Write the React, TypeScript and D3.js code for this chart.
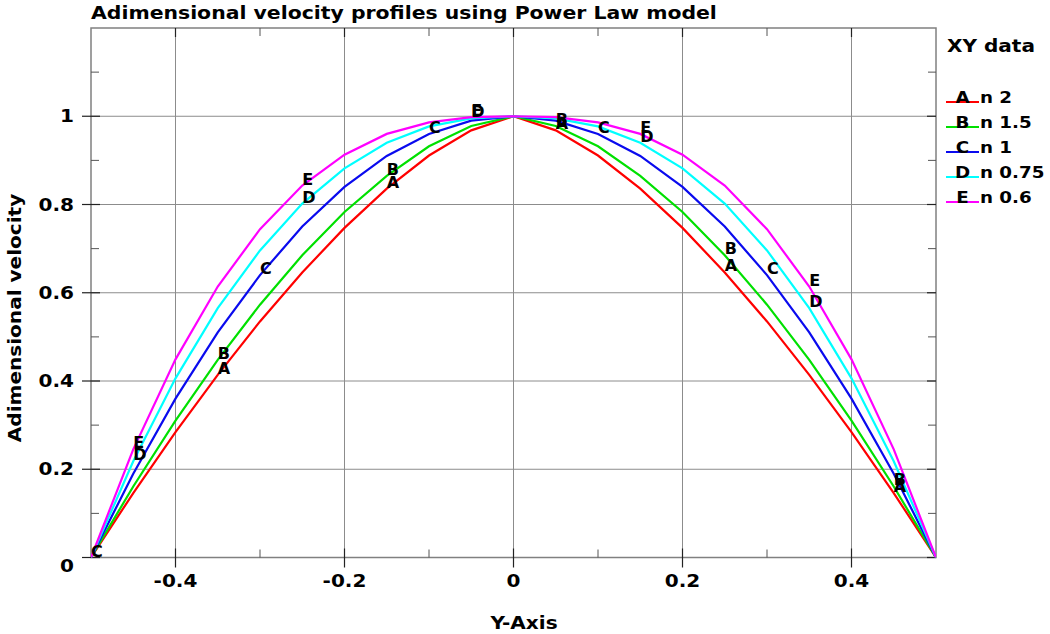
import React from "react";
import * as d3 from "d3";

const positions = [-0.5, -0.45, -0.4, -0.35, -0.3, -0.25, -0.2, -0.15, -0.1, -0.05, 0, 0.05, 0.1, 0.15, 0.2, 0.25, 0.3, 0.35, 0.4, 0.45, 0.5];

const seriesA = [0, 0.146, 0.284, 0.414, 0.535, 0.646, 0.747, 0.836, 0.911, 0.968, 1, 0.968, 0.911, 0.836, 0.747, 0.646, 0.535, 0.414, 0.284, 0.146, 0];
const seriesB = [0, 0.161, 0.310, 0.448, 0.573, 0.685, 0.783, 0.865, 0.932, 0.978, 1, 0.978, 0.932, 0.865, 0.783, 0.685, 0.573, 0.448, 0.310, 0.161, 0];
const seriesC = [0, 0.19, 0.36, 0.51, 0.64, 0.75, 0.84, 0.91, 0.96, 0.99, 1, 0.99, 0.96, 0.91, 0.84, 0.75, 0.64, 0.51, 0.36, 0.19, 0];
const seriesD = [0, 0.218, 0.406, 0.565, 0.696, 0.802, 0.882, 0.940, 0.977, 0.995, 1, 0.995, 0.977, 0.940, 0.882, 0.802, 0.696, 0.565, 0.406, 0.218, 0];
const seriesE = [0, 0.245, 0.449, 0.614, 0.744, 0.843, 0.913, 0.960, 0.986, 0.998, 1, 0.998, 0.986, 0.960, 0.913, 0.843, 0.744, 0.614, 0.449, 0.245, 0];

const seriesLetters = ["A", "B", "C", "D", "E"];
const seriesNames = ["n 2", "n 1.5", "n 1", "n 0.75", "n 0.6"];
const seriesColors = ["#ff0000", "#00e000", "#0a0aee", "#00ffff", "#ff00ff"];
const markerIndices = [
  [3, 7, 11, 15, 19],
  [3, 7, 11, 15, 19],
  [0, 4, 8, 12, 16],
  [1, 5, 9, 13, 17],
  [1, 5, 9, 13, 17],
];

const xMajorTicks = [-0.4, -0.2, 0, 0.2, 0.4];
const xTickLabels = ["-0.4", "-0.2", "0", "0.2", "0.4"];
const xMinorTicks = [-0.3, -0.1, 0.1, 0.3];
const yMajorTicks = [0, 0.2, 0.4, 0.6, 0.8, 1];
const yTickLabels = ["0", "0.2", "0.4", "0.6", "0.8", "1"];
const yMinorTicks = [0.1, 0.3, 0.5, 0.7, 0.9, 1.1];

const titleText = "Adimensional velocity profiles using Power Law model";
const xTitle = "Y-Axis";
const yTitle = "Adimensional velocity";
const legendTitle = "XY data";

const FONT = "'DejaVu Sans', Verdana, sans-serif";
const SX = 1.18;

export default function App() {
  const left = 91, right = 936, top = 28, bottom = 557.5;
  const x = d3.scaleLinear().domain([-0.5, 0.5]).range([left, right]);
  const y = d3.scaleLinear().domain([0, 1.2]).range([bottom, top]);
  const all = [seriesA, seriesB, seriesC, seriesD, seriesE];
  const line = d3
    .line<number>()
    .x((_, i) => x(positions[i]))
    .y((d) => y(d));

  return (
    <svg width={1050} height={634} style={{ position: "absolute", left: 0, top: 0, background: "#fff" }}>
      <defs>
        <clipPath id="plotclip">
          <rect x={left} y={top} width={right - left} height={bottom - top} />
        </clipPath>
      </defs>
      {xMajorTicks.map((t) => (
        <line key={"gx" + t} x1={x(t)} x2={x(t)} y1={top} y2={bottom} stroke="#8c8c8c" strokeWidth={1} />
      ))}
      {yMajorTicks.map((t) => (
        <line key={"gy" + t} x1={left} x2={right} y1={y(t)} y2={y(t)} stroke="#8c8c8c" strokeWidth={1} />
      ))}
      <rect x={left} y={top} width={right - left} height={bottom - top} fill="none" stroke="#808080" strokeWidth={1.5} />
      {xMajorTicks.map((t) => (
        <g key={"tx" + t}>
          <line x1={x(t)} x2={x(t)} y1={bottom - 9} y2={bottom + 10} stroke="#222" strokeWidth={1.2} />
          <line x1={x(t)} x2={x(t)} y1={top} y2={top + 9} stroke="#222" strokeWidth={1.2} />
        </g>
      ))}
      {xMinorTicks.map((t) => (
        <g key={"mx" + t}>
          <line x1={x(t)} x2={x(t)} y1={bottom - 8} y2={bottom} stroke="#555" strokeWidth={1} />
          <line x1={x(t)} x2={x(t)} y1={top} y2={top + 8} stroke="#555" strokeWidth={1} />
        </g>
      ))}
      {yMajorTicks.map((t) => (
        <g key={"ty" + t}>
          <line x1={left - 9} x2={left + 9} y1={y(t)} y2={y(t)} stroke="#222" strokeWidth={1.2} />
          <line x1={right - 9} x2={right} y1={y(t)} y2={y(t)} stroke="#222" strokeWidth={1.2} />
        </g>
      ))}
      {yMinorTicks.map((t) => (
        <g key={"my" + t}>
          <line x1={left} x2={left + 8} y1={y(t)} y2={y(t)} stroke="#555" strokeWidth={1} />
          <line x1={right - 8} x2={right} y1={y(t)} y2={y(t)} stroke="#555" strokeWidth={1} />
        </g>
      ))}
      <g clipPath="url(#plotclip)">
        {all.map((s, k) => (
          <path key={"c" + k} d={line(s) || ""} fill="none" stroke={seriesColors[k]} strokeWidth={2.2} />
        ))}
      </g>
      <g clipPath="url(#plotclip)">
        {all.map((s, k) =>
          markerIndices[k].map((i) => (
            <text
              key={"m" + k + "_" + i}
              x={x(positions[i])}
              y={y(s[i]) - 1}
              fontFamily={FONT}
              fontSize={16}
              fontWeight="bold"
              fill="#000"
            >
              {seriesLetters[k]}
            </text>
          ))
        )}
      </g>
      {xMajorTicks.map((t, i) => (
        <text
          key={"lx" + t}
          transform={`translate(${x(t)},587) scale(${SX},1)`}
          textAnchor="middle"
          fontFamily={FONT}
          fontSize={17}
          fontWeight="bold"
        >
          {xTickLabels[i]}
        </text>
      ))}
      {yMajorTicks.map((t, i) => (
        <text
          key={"ly" + t}
          transform={`translate(74,${(t === 0 ? y(t) + 8 : y(t)) + 6}) scale(${SX},1)`}
          textAnchor="end"
          fontFamily={FONT}
          fontSize={17}
          fontWeight="bold"
        >
          {yTickLabels[i]}
        </text>
      ))}
      <text transform={`translate(91,19) scale(${SX},1)`} fontFamily={FONT} fontSize={17.3} fontWeight="bold">
        {titleText}
      </text>
      <text transform={`translate(524,629) scale(${SX},1)`} textAnchor="middle" fontFamily={FONT} fontSize={17} fontWeight="bold">
        {xTitle}
      </text>
      <text
        transform={`translate(21,318) rotate(-90) scale(${SX},1)`}
        textAnchor="middle"
        fontFamily={FONT}
        fontSize={17}
        fontWeight="bold"
      >
        {yTitle}
      </text>
      <text transform={`translate(947,52) scale(${SX},1)`} fontFamily={FONT} fontSize={17} fontWeight="bold">
        {legendTitle}
      </text>
      {seriesLetters.map((L, k) => {
        const ly = 102 + k * 25;
        return (
          <g key={"lg" + k}>
            <line x1={946} x2={979} y1={ly} y2={ly} stroke={seriesColors[k]} strokeWidth={2} />
            <text transform={`translate(962.5,${ly + 1}) scale(${SX},1)`} textAnchor="middle" fontFamily={FONT} fontSize={15.5} fontWeight="bold">
              {L}
            </text>
            <text transform={`translate(980,${ly + 1}) scale(${SX},1)`} fontFamily={FONT} fontSize={15.5} fontWeight="bold">
              {seriesNames[k]}
            </text>
          </g>
        );
      })}
    </svg>
  );
}
